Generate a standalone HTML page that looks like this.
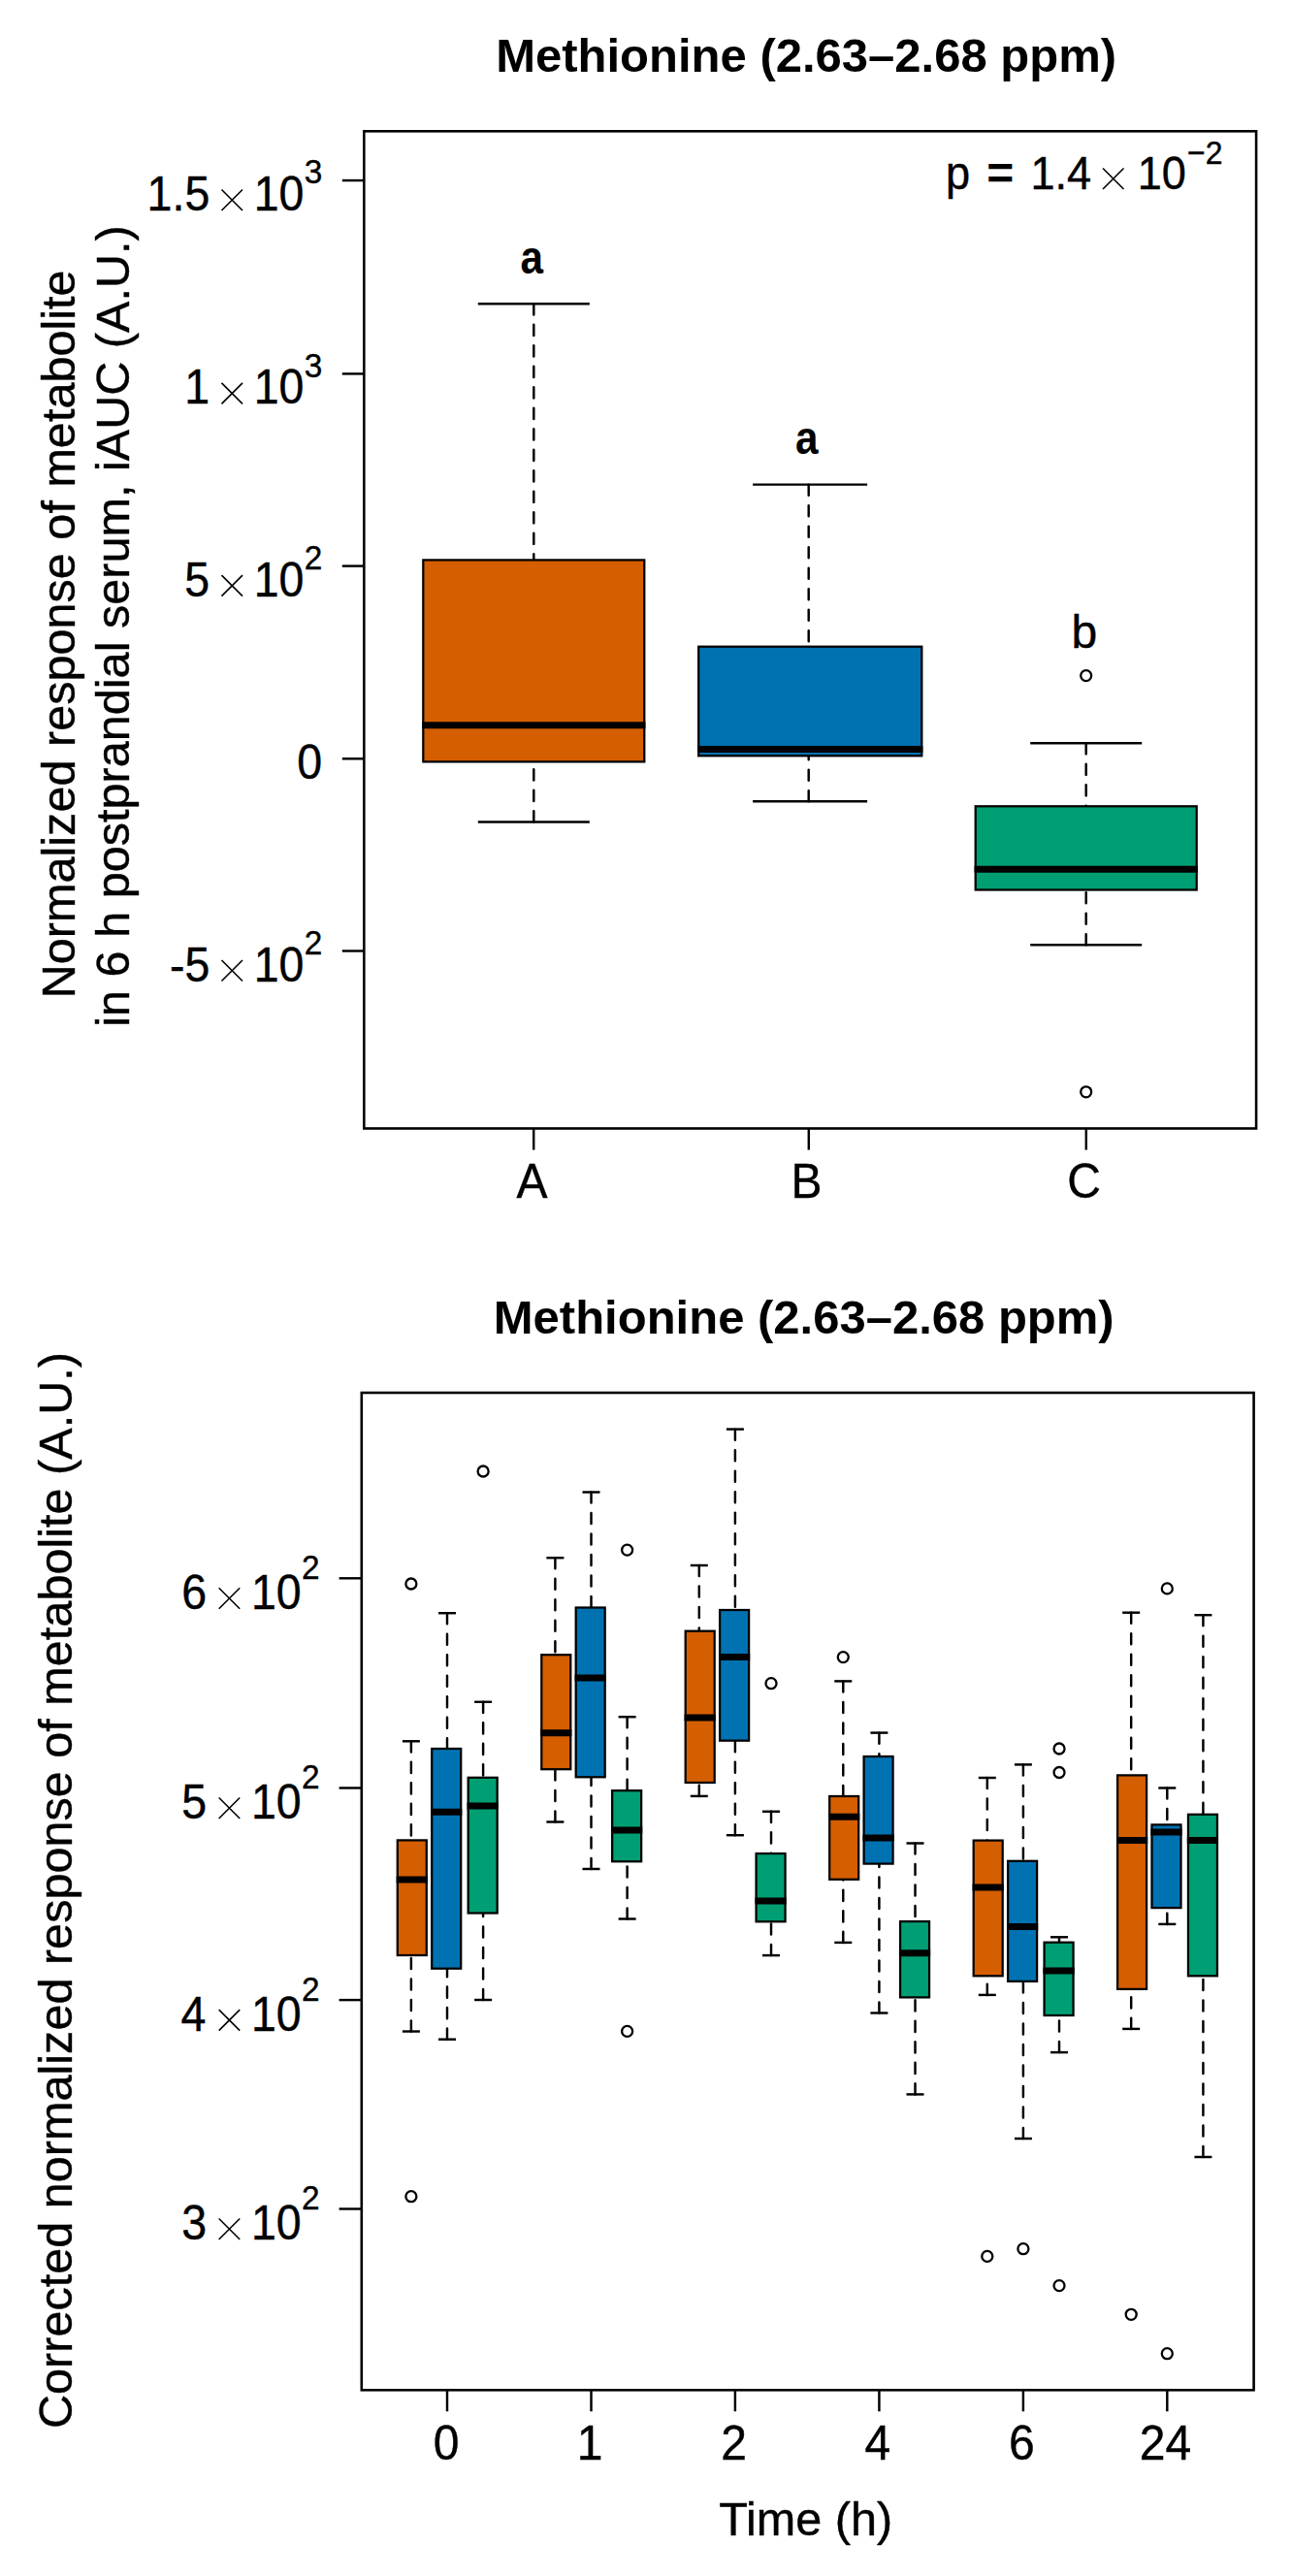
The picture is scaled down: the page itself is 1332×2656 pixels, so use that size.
<!DOCTYPE html>
<html><head><meta charset="utf-8"><title>Methionine boxplots</title>
<style>html,body{margin:0;padding:0;background:#fff;} svg{display:block;} text{font-family:"Liberation Sans", sans-serif;fill:#000;} text.r{stroke:#000;stroke-width:0.4px;}</style>
</head><body>
<svg width="1332" height="2656" viewBox="0 0 1332 2656">
<rect x="0" y="0" width="1332" height="2656" fill="#fff"/>
<rect x="375.3" y="135.3" width="919.8" height="1028.2" fill="none" stroke="#000" stroke-width="2.6"/>
<line x1="352.80" y1="186.05" x2="375.00" y2="186.05" stroke="#000" stroke-width="2.45" stroke-linecap="butt"/>
<line x1="352.80" y1="385.40" x2="375.00" y2="385.40" stroke="#000" stroke-width="2.45" stroke-linecap="butt"/>
<line x1="352.80" y1="583.60" x2="375.00" y2="583.60" stroke="#000" stroke-width="2.45" stroke-linecap="butt"/>
<line x1="352.80" y1="782.30" x2="375.00" y2="782.30" stroke="#000" stroke-width="2.45" stroke-linecap="butt"/>
<line x1="352.80" y1="980.50" x2="375.00" y2="980.50" stroke="#000" stroke-width="2.45" stroke-linecap="butt"/>
<line x1="550.20" y1="1163.50" x2="550.20" y2="1185.60" stroke="#000" stroke-width="2.45" stroke-linecap="butt"/>
<line x1="833.80" y1="1163.50" x2="833.80" y2="1185.60" stroke="#000" stroke-width="2.45" stroke-linecap="butt"/>
<line x1="1119.80" y1="1163.50" x2="1119.80" y2="1185.60" stroke="#000" stroke-width="2.45" stroke-linecap="butt"/>
<line x1="550.30" y1="313.30" x2="550.30" y2="577.40" stroke="#000" stroke-width="2.45" stroke-linecap="round" stroke-dasharray="11.1 10.4" stroke-dashoffset="0"/>
<line x1="550.30" y1="847.40" x2="550.30" y2="785.40" stroke="#000" stroke-width="2.45" stroke-linecap="round" stroke-dasharray="11.1 10.4" stroke-dashoffset="0"/>
<line x1="492.80" y1="313.30" x2="607.80" y2="313.30" stroke="#000" stroke-width="2.45" stroke-linecap="butt"/>
<line x1="492.80" y1="847.40" x2="607.80" y2="847.40" stroke="#000" stroke-width="2.45" stroke-linecap="butt"/>
<rect x="436.30" y="577.40" width="228.00" height="208.00" fill="#D55E00" stroke="#000" stroke-width="2.25"/>
<line x1="435.20" y1="747.80" x2="665.40" y2="747.80" stroke="#000" stroke-width="7.0" stroke-linecap="butt"/>
<line x1="833.70" y1="499.60" x2="833.70" y2="666.70" stroke="#000" stroke-width="2.45" stroke-linecap="round" stroke-dasharray="11.1 10.4" stroke-dashoffset="0"/>
<line x1="833.70" y1="826.20" x2="833.70" y2="779.30" stroke="#000" stroke-width="2.45" stroke-linecap="round" stroke-dasharray="11.1 10.4" stroke-dashoffset="0"/>
<line x1="776.10" y1="499.60" x2="894.10" y2="499.60" stroke="#000" stroke-width="2.45" stroke-linecap="butt"/>
<line x1="776.10" y1="826.20" x2="894.10" y2="826.20" stroke="#000" stroke-width="2.45" stroke-linecap="butt"/>
<rect x="720.20" y="666.70" width="230.10" height="112.60" fill="#0072B2" stroke="#000" stroke-width="2.25"/>
<line x1="719.10" y1="772.40" x2="951.40" y2="772.40" stroke="#000" stroke-width="7.0" stroke-linecap="butt"/>
<line x1="1119.70" y1="766.30" x2="1119.70" y2="831.30" stroke="#000" stroke-width="2.45" stroke-linecap="round" stroke-dasharray="11.1 10.4" stroke-dashoffset="0"/>
<line x1="1119.70" y1="974.20" x2="1119.70" y2="917.50" stroke="#000" stroke-width="2.45" stroke-linecap="round" stroke-dasharray="11.1 10.4" stroke-dashoffset="0"/>
<line x1="1062.20" y1="766.30" x2="1177.20" y2="766.30" stroke="#000" stroke-width="2.45" stroke-linecap="butt"/>
<line x1="1062.20" y1="974.20" x2="1177.20" y2="974.20" stroke="#000" stroke-width="2.45" stroke-linecap="butt"/>
<rect x="1005.70" y="831.30" width="228.00" height="86.20" fill="#009E73" stroke="#000" stroke-width="2.25"/>
<line x1="1004.60" y1="896.20" x2="1234.80" y2="896.20" stroke="#000" stroke-width="7.0" stroke-linecap="butt"/>
<circle cx="1119.70" cy="696.60" r="5.5" fill="none" stroke="#000" stroke-width="2.3"/>
<circle cx="1119.70" cy="1125.80" r="5.5" fill="none" stroke="#000" stroke-width="2.3"/>
<path d="M228.50 195.55L250.00 217.05M250.00 195.55L228.50 217.05" stroke="#000" stroke-width="1.6" fill="none"/>
<path d="M228.50 394.90L250.00 416.40M250.00 394.90L228.50 416.40" stroke="#000" stroke-width="1.6" fill="none"/>
<path d="M228.50 593.10L250.00 614.60M250.00 593.10L228.50 614.60" stroke="#000" stroke-width="1.6" fill="none"/>
<path d="M228.50 990.00L250.00 1011.50M250.00 990.00L228.50 1011.50" stroke="#000" stroke-width="1.6" fill="none"/>
<path d="M1137.00 173.50L1158.50 195.00M1158.50 173.50L1137.00 195.00" stroke="#000" stroke-width="1.6" fill="none"/>
<rect x="372.8" y="1436" width="919.8" height="1028.3" fill="none" stroke="#000" stroke-width="2.6"/>
<line x1="349.60" y1="1627.30" x2="372.60" y2="1627.30" stroke="#000" stroke-width="2.45" stroke-linecap="butt"/>
<line x1="349.60" y1="1843.50" x2="372.60" y2="1843.50" stroke="#000" stroke-width="2.45" stroke-linecap="butt"/>
<line x1="349.60" y1="2062.10" x2="372.60" y2="2062.10" stroke="#000" stroke-width="2.45" stroke-linecap="butt"/>
<line x1="349.60" y1="2277.50" x2="372.60" y2="2277.50" stroke="#000" stroke-width="2.45" stroke-linecap="butt"/>
<line x1="461.00" y1="2464.30" x2="461.00" y2="2486.30" stroke="#000" stroke-width="2.45" stroke-linecap="butt"/>
<line x1="609.50" y1="2464.30" x2="609.50" y2="2486.30" stroke="#000" stroke-width="2.45" stroke-linecap="butt"/>
<line x1="757.90" y1="2464.30" x2="757.90" y2="2486.30" stroke="#000" stroke-width="2.45" stroke-linecap="butt"/>
<line x1="906.40" y1="2464.30" x2="906.40" y2="2486.30" stroke="#000" stroke-width="2.45" stroke-linecap="butt"/>
<line x1="1054.90" y1="2464.30" x2="1054.90" y2="2486.30" stroke="#000" stroke-width="2.45" stroke-linecap="butt"/>
<line x1="1203.30" y1="2464.30" x2="1203.30" y2="2486.30" stroke="#000" stroke-width="2.45" stroke-linecap="butt"/>
<path d="M225.70 1637.30L247.20 1658.80M247.20 1637.30L225.70 1658.80" stroke="#000" stroke-width="1.6" fill="none"/>
<path d="M225.70 1853.50L247.20 1875.00M247.20 1853.50L225.70 1875.00" stroke="#000" stroke-width="1.6" fill="none"/>
<path d="M225.70 2072.10L247.20 2093.60M247.20 2072.10L225.70 2093.60" stroke="#000" stroke-width="1.6" fill="none"/>
<path d="M225.70 2287.50L247.20 2309.00M247.20 2287.50L225.70 2309.00" stroke="#000" stroke-width="1.6" fill="none"/>
<line x1="423.88" y1="1795.30" x2="423.88" y2="1897.40" stroke="#000" stroke-width="2.45" stroke-linecap="round" stroke-dasharray="11.1 10.4" stroke-dashoffset="0"/>
<line x1="423.88" y1="2094.50" x2="423.88" y2="2016.00" stroke="#000" stroke-width="2.45" stroke-linecap="round" stroke-dasharray="11.1 10.4" stroke-dashoffset="0"/>
<line x1="414.88" y1="1795.30" x2="432.88" y2="1795.30" stroke="#000" stroke-width="2.45" stroke-linecap="butt"/>
<line x1="414.88" y1="2094.50" x2="432.88" y2="2094.50" stroke="#000" stroke-width="2.45" stroke-linecap="butt"/>
<rect x="409.78" y="1897.40" width="30.00" height="118.60" fill="#D55E00" stroke="#000" stroke-width="2.25"/>
<line x1="408.68" y1="1938.00" x2="440.88" y2="1938.00" stroke="#000" stroke-width="7.0" stroke-linecap="butt"/>
<circle cx="423.88" cy="1633.00" r="5.5" fill="none" stroke="#000" stroke-width="2.3"/>
<circle cx="423.88" cy="2264.70" r="5.5" fill="none" stroke="#000" stroke-width="2.3"/>
<line x1="461.00" y1="1663.20" x2="461.00" y2="1803.00" stroke="#000" stroke-width="2.45" stroke-linecap="round" stroke-dasharray="11.1 10.4" stroke-dashoffset="0"/>
<line x1="461.00" y1="2102.70" x2="461.00" y2="2029.70" stroke="#000" stroke-width="2.45" stroke-linecap="round" stroke-dasharray="11.1 10.4" stroke-dashoffset="0"/>
<line x1="452.00" y1="1663.20" x2="470.00" y2="1663.20" stroke="#000" stroke-width="2.45" stroke-linecap="butt"/>
<line x1="452.00" y1="2102.70" x2="470.00" y2="2102.70" stroke="#000" stroke-width="2.45" stroke-linecap="butt"/>
<rect x="445.20" y="1803.00" width="30.00" height="226.70" fill="#0072B2" stroke="#000" stroke-width="2.25"/>
<line x1="444.10" y1="1868.20" x2="476.30" y2="1868.20" stroke="#000" stroke-width="7.0" stroke-linecap="butt"/>
<line x1="498.12" y1="1754.80" x2="498.12" y2="1832.80" stroke="#000" stroke-width="2.45" stroke-linecap="round" stroke-dasharray="11.1 10.4" stroke-dashoffset="0"/>
<line x1="498.12" y1="2062.00" x2="498.12" y2="1972.50" stroke="#000" stroke-width="2.45" stroke-linecap="round" stroke-dasharray="11.1 10.4" stroke-dashoffset="0"/>
<line x1="489.12" y1="1754.80" x2="507.12" y2="1754.80" stroke="#000" stroke-width="2.45" stroke-linecap="butt"/>
<line x1="489.12" y1="2062.00" x2="507.12" y2="2062.00" stroke="#000" stroke-width="2.45" stroke-linecap="butt"/>
<rect x="482.67" y="1832.80" width="30.00" height="139.70" fill="#009E73" stroke="#000" stroke-width="2.25"/>
<line x1="481.56" y1="1862.00" x2="513.76" y2="1862.00" stroke="#000" stroke-width="7.0" stroke-linecap="butt"/>
<circle cx="498.12" cy="1517.00" r="5.5" fill="none" stroke="#000" stroke-width="2.3"/>
<line x1="572.38" y1="1606.20" x2="572.38" y2="1706.20" stroke="#000" stroke-width="2.45" stroke-linecap="round" stroke-dasharray="11.1 10.4" stroke-dashoffset="0"/>
<line x1="572.38" y1="1878.50" x2="572.38" y2="1824.20" stroke="#000" stroke-width="2.45" stroke-linecap="round" stroke-dasharray="11.1 10.4" stroke-dashoffset="0"/>
<line x1="563.38" y1="1606.20" x2="581.38" y2="1606.20" stroke="#000" stroke-width="2.45" stroke-linecap="butt"/>
<line x1="563.38" y1="1878.50" x2="581.38" y2="1878.50" stroke="#000" stroke-width="2.45" stroke-linecap="butt"/>
<rect x="558.28" y="1706.20" width="30.00" height="118.00" fill="#D55E00" stroke="#000" stroke-width="2.25"/>
<line x1="557.18" y1="1786.70" x2="589.38" y2="1786.70" stroke="#000" stroke-width="7.0" stroke-linecap="butt"/>
<line x1="609.50" y1="1538.50" x2="609.50" y2="1657.50" stroke="#000" stroke-width="2.45" stroke-linecap="round" stroke-dasharray="11.1 10.4" stroke-dashoffset="0"/>
<line x1="609.50" y1="1927.00" x2="609.50" y2="1832.30" stroke="#000" stroke-width="2.45" stroke-linecap="round" stroke-dasharray="11.1 10.4" stroke-dashoffset="0"/>
<line x1="600.50" y1="1538.50" x2="618.50" y2="1538.50" stroke="#000" stroke-width="2.45" stroke-linecap="butt"/>
<line x1="600.50" y1="1927.00" x2="618.50" y2="1927.00" stroke="#000" stroke-width="2.45" stroke-linecap="butt"/>
<rect x="593.70" y="1657.50" width="30.00" height="174.80" fill="#0072B2" stroke="#000" stroke-width="2.25"/>
<line x1="592.60" y1="1730.00" x2="624.80" y2="1730.00" stroke="#000" stroke-width="7.0" stroke-linecap="butt"/>
<line x1="646.62" y1="1770.20" x2="646.62" y2="1846.20" stroke="#000" stroke-width="2.45" stroke-linecap="round" stroke-dasharray="11.1 10.4" stroke-dashoffset="0"/>
<line x1="646.62" y1="1978.50" x2="646.62" y2="1919.30" stroke="#000" stroke-width="2.45" stroke-linecap="round" stroke-dasharray="11.1 10.4" stroke-dashoffset="0"/>
<line x1="637.62" y1="1770.20" x2="655.62" y2="1770.20" stroke="#000" stroke-width="2.45" stroke-linecap="butt"/>
<line x1="637.62" y1="1978.50" x2="655.62" y2="1978.50" stroke="#000" stroke-width="2.45" stroke-linecap="butt"/>
<rect x="631.16" y="1846.20" width="30.00" height="73.10" fill="#009E73" stroke="#000" stroke-width="2.25"/>
<line x1="630.06" y1="1887.00" x2="662.26" y2="1887.00" stroke="#000" stroke-width="7.0" stroke-linecap="butt"/>
<circle cx="646.62" cy="1598.10" r="5.5" fill="none" stroke="#000" stroke-width="2.3"/>
<circle cx="646.62" cy="2094.40" r="5.5" fill="none" stroke="#000" stroke-width="2.3"/>
<line x1="720.78" y1="1614.00" x2="720.78" y2="1681.70" stroke="#000" stroke-width="2.45" stroke-linecap="round" stroke-dasharray="11.1 10.4" stroke-dashoffset="0"/>
<line x1="720.78" y1="1851.90" x2="720.78" y2="1838.00" stroke="#000" stroke-width="2.45" stroke-linecap="round" stroke-dasharray="11.1 10.4" stroke-dashoffset="0"/>
<line x1="711.78" y1="1614.00" x2="729.78" y2="1614.00" stroke="#000" stroke-width="2.45" stroke-linecap="butt"/>
<line x1="711.78" y1="1851.90" x2="729.78" y2="1851.90" stroke="#000" stroke-width="2.45" stroke-linecap="butt"/>
<rect x="706.68" y="1681.70" width="30.00" height="156.30" fill="#D55E00" stroke="#000" stroke-width="2.25"/>
<line x1="705.58" y1="1771.10" x2="737.78" y2="1771.10" stroke="#000" stroke-width="7.0" stroke-linecap="butt"/>
<line x1="757.90" y1="1473.60" x2="757.90" y2="1660.00" stroke="#000" stroke-width="2.45" stroke-linecap="round" stroke-dasharray="11.1 10.4" stroke-dashoffset="0"/>
<line x1="757.90" y1="1892.20" x2="757.90" y2="1794.70" stroke="#000" stroke-width="2.45" stroke-linecap="round" stroke-dasharray="11.1 10.4" stroke-dashoffset="0"/>
<line x1="748.90" y1="1473.60" x2="766.90" y2="1473.60" stroke="#000" stroke-width="2.45" stroke-linecap="butt"/>
<line x1="748.90" y1="1892.20" x2="766.90" y2="1892.20" stroke="#000" stroke-width="2.45" stroke-linecap="butt"/>
<rect x="742.10" y="1660.00" width="30.00" height="134.70" fill="#0072B2" stroke="#000" stroke-width="2.25"/>
<line x1="741.00" y1="1708.40" x2="773.20" y2="1708.40" stroke="#000" stroke-width="7.0" stroke-linecap="butt"/>
<line x1="795.01" y1="1867.80" x2="795.01" y2="1911.10" stroke="#000" stroke-width="2.45" stroke-linecap="round" stroke-dasharray="11.1 10.4" stroke-dashoffset="0"/>
<line x1="795.01" y1="2016.10" x2="795.01" y2="1981.30" stroke="#000" stroke-width="2.45" stroke-linecap="round" stroke-dasharray="11.1 10.4" stroke-dashoffset="0"/>
<line x1="786.01" y1="1867.80" x2="804.01" y2="1867.80" stroke="#000" stroke-width="2.45" stroke-linecap="butt"/>
<line x1="786.01" y1="2016.10" x2="804.01" y2="2016.10" stroke="#000" stroke-width="2.45" stroke-linecap="butt"/>
<rect x="779.56" y="1911.10" width="30.00" height="70.20" fill="#009E73" stroke="#000" stroke-width="2.25"/>
<line x1="778.46" y1="1959.90" x2="810.66" y2="1959.90" stroke="#000" stroke-width="7.0" stroke-linecap="butt"/>
<circle cx="795.01" cy="1735.70" r="5.5" fill="none" stroke="#000" stroke-width="2.3"/>
<line x1="869.28" y1="1733.40" x2="869.28" y2="1852.00" stroke="#000" stroke-width="2.45" stroke-linecap="round" stroke-dasharray="11.1 10.4" stroke-dashoffset="0"/>
<line x1="869.28" y1="2002.90" x2="869.28" y2="1937.80" stroke="#000" stroke-width="2.45" stroke-linecap="round" stroke-dasharray="11.1 10.4" stroke-dashoffset="0"/>
<line x1="860.28" y1="1733.40" x2="878.28" y2="1733.40" stroke="#000" stroke-width="2.45" stroke-linecap="butt"/>
<line x1="860.28" y1="2002.90" x2="878.28" y2="2002.90" stroke="#000" stroke-width="2.45" stroke-linecap="butt"/>
<rect x="855.18" y="1852.00" width="30.00" height="85.80" fill="#D55E00" stroke="#000" stroke-width="2.25"/>
<line x1="854.08" y1="1873.20" x2="886.28" y2="1873.20" stroke="#000" stroke-width="7.0" stroke-linecap="butt"/>
<circle cx="869.28" cy="1708.60" r="5.5" fill="none" stroke="#000" stroke-width="2.3"/>
<line x1="906.40" y1="1786.60" x2="906.40" y2="1811.00" stroke="#000" stroke-width="2.45" stroke-linecap="round" stroke-dasharray="11.1 10.4" stroke-dashoffset="0"/>
<line x1="906.40" y1="2075.50" x2="906.40" y2="1921.60" stroke="#000" stroke-width="2.45" stroke-linecap="round" stroke-dasharray="11.1 10.4" stroke-dashoffset="0"/>
<line x1="897.40" y1="1786.60" x2="915.40" y2="1786.60" stroke="#000" stroke-width="2.45" stroke-linecap="butt"/>
<line x1="897.40" y1="2075.50" x2="915.40" y2="2075.50" stroke="#000" stroke-width="2.45" stroke-linecap="butt"/>
<rect x="890.60" y="1811.00" width="30.00" height="110.60" fill="#0072B2" stroke="#000" stroke-width="2.25"/>
<line x1="889.50" y1="1894.90" x2="921.70" y2="1894.90" stroke="#000" stroke-width="7.0" stroke-linecap="butt"/>
<line x1="943.51" y1="1900.50" x2="943.51" y2="1981.10" stroke="#000" stroke-width="2.45" stroke-linecap="round" stroke-dasharray="11.1 10.4" stroke-dashoffset="0"/>
<line x1="943.51" y1="2159.40" x2="943.51" y2="2059.40" stroke="#000" stroke-width="2.45" stroke-linecap="round" stroke-dasharray="11.1 10.4" stroke-dashoffset="0"/>
<line x1="934.51" y1="1900.50" x2="952.51" y2="1900.50" stroke="#000" stroke-width="2.45" stroke-linecap="butt"/>
<line x1="934.51" y1="2159.40" x2="952.51" y2="2159.40" stroke="#000" stroke-width="2.45" stroke-linecap="butt"/>
<rect x="928.06" y="1981.10" width="30.00" height="78.30" fill="#009E73" stroke="#000" stroke-width="2.25"/>
<line x1="926.96" y1="2013.70" x2="959.16" y2="2013.70" stroke="#000" stroke-width="7.0" stroke-linecap="butt"/>
<line x1="1017.79" y1="1833.00" x2="1017.79" y2="1897.60" stroke="#000" stroke-width="2.45" stroke-linecap="round" stroke-dasharray="11.1 10.4" stroke-dashoffset="0"/>
<line x1="1017.79" y1="2056.90" x2="1017.79" y2="2037.30" stroke="#000" stroke-width="2.45" stroke-linecap="round" stroke-dasharray="11.1 10.4" stroke-dashoffset="0"/>
<line x1="1008.79" y1="1833.00" x2="1026.79" y2="1833.00" stroke="#000" stroke-width="2.45" stroke-linecap="butt"/>
<line x1="1008.79" y1="2056.90" x2="1026.79" y2="2056.90" stroke="#000" stroke-width="2.45" stroke-linecap="butt"/>
<rect x="1003.69" y="1897.60" width="30.00" height="139.70" fill="#D55E00" stroke="#000" stroke-width="2.25"/>
<line x1="1002.59" y1="1946.10" x2="1034.78" y2="1946.10" stroke="#000" stroke-width="7.0" stroke-linecap="butt"/>
<circle cx="1017.79" cy="2326.40" r="5.5" fill="none" stroke="#000" stroke-width="2.3"/>
<line x1="1054.90" y1="1819.40" x2="1054.90" y2="1918.80" stroke="#000" stroke-width="2.45" stroke-linecap="round" stroke-dasharray="11.1 10.4" stroke-dashoffset="0"/>
<line x1="1054.90" y1="2205.00" x2="1054.90" y2="2042.90" stroke="#000" stroke-width="2.45" stroke-linecap="round" stroke-dasharray="11.1 10.4" stroke-dashoffset="0"/>
<line x1="1045.90" y1="1819.40" x2="1063.90" y2="1819.40" stroke="#000" stroke-width="2.45" stroke-linecap="butt"/>
<line x1="1045.90" y1="2205.00" x2="1063.90" y2="2205.00" stroke="#000" stroke-width="2.45" stroke-linecap="butt"/>
<rect x="1039.10" y="1918.80" width="30.00" height="124.10" fill="#0072B2" stroke="#000" stroke-width="2.25"/>
<line x1="1038.00" y1="1986.50" x2="1070.20" y2="1986.50" stroke="#000" stroke-width="7.0" stroke-linecap="butt"/>
<circle cx="1054.90" cy="2318.70" r="5.5" fill="none" stroke="#000" stroke-width="2.3"/>
<line x1="1092.02" y1="1997.30" x2="1092.02" y2="2002.70" stroke="#000" stroke-width="2.45" stroke-linecap="round" stroke-dasharray="11.1 10.4" stroke-dashoffset="0"/>
<line x1="1092.02" y1="2116.10" x2="1092.02" y2="2078.00" stroke="#000" stroke-width="2.45" stroke-linecap="round" stroke-dasharray="11.1 10.4" stroke-dashoffset="0"/>
<line x1="1083.02" y1="1997.30" x2="1101.02" y2="1997.30" stroke="#000" stroke-width="2.45" stroke-linecap="butt"/>
<line x1="1083.02" y1="2116.10" x2="1101.02" y2="2116.10" stroke="#000" stroke-width="2.45" stroke-linecap="butt"/>
<rect x="1076.57" y="2002.70" width="30.00" height="75.30" fill="#009E73" stroke="#000" stroke-width="2.25"/>
<line x1="1075.47" y1="2032.00" x2="1107.66" y2="2032.00" stroke="#000" stroke-width="7.0" stroke-linecap="butt"/>
<circle cx="1092.02" cy="1803.00" r="5.5" fill="none" stroke="#000" stroke-width="2.3"/>
<circle cx="1092.02" cy="1827.50" r="5.5" fill="none" stroke="#000" stroke-width="2.3"/>
<circle cx="1092.02" cy="2356.60" r="5.5" fill="none" stroke="#000" stroke-width="2.3"/>
<line x1="1166.18" y1="1662.70" x2="1166.18" y2="1830.40" stroke="#000" stroke-width="2.45" stroke-linecap="round" stroke-dasharray="11.1 10.4" stroke-dashoffset="0"/>
<line x1="1166.18" y1="2091.90" x2="1166.18" y2="2050.90" stroke="#000" stroke-width="2.45" stroke-linecap="round" stroke-dasharray="11.1 10.4" stroke-dashoffset="0"/>
<line x1="1157.18" y1="1662.70" x2="1175.18" y2="1662.70" stroke="#000" stroke-width="2.45" stroke-linecap="butt"/>
<line x1="1157.18" y1="2091.90" x2="1175.18" y2="2091.90" stroke="#000" stroke-width="2.45" stroke-linecap="butt"/>
<rect x="1152.09" y="1830.40" width="30.00" height="220.50" fill="#D55E00" stroke="#000" stroke-width="2.25"/>
<line x1="1150.99" y1="1897.50" x2="1183.18" y2="1897.50" stroke="#000" stroke-width="7.0" stroke-linecap="butt"/>
<circle cx="1166.18" cy="2386.30" r="5.5" fill="none" stroke="#000" stroke-width="2.3"/>
<line x1="1203.30" y1="1843.50" x2="1203.30" y2="1881.40" stroke="#000" stroke-width="2.45" stroke-linecap="round" stroke-dasharray="11.1 10.4" stroke-dashoffset="0"/>
<line x1="1203.30" y1="1983.90" x2="1203.30" y2="1967.10" stroke="#000" stroke-width="2.45" stroke-linecap="round" stroke-dasharray="11.1 10.4" stroke-dashoffset="0"/>
<line x1="1194.30" y1="1843.50" x2="1212.30" y2="1843.50" stroke="#000" stroke-width="2.45" stroke-linecap="butt"/>
<line x1="1194.30" y1="1983.90" x2="1212.30" y2="1983.90" stroke="#000" stroke-width="2.45" stroke-linecap="butt"/>
<rect x="1187.50" y="1881.40" width="30.00" height="85.70" fill="#0072B2" stroke="#000" stroke-width="2.25"/>
<line x1="1186.40" y1="1889.00" x2="1218.60" y2="1889.00" stroke="#000" stroke-width="7.0" stroke-linecap="butt"/>
<circle cx="1203.30" cy="1637.90" r="5.5" fill="none" stroke="#000" stroke-width="2.3"/>
<circle cx="1203.30" cy="2426.70" r="5.5" fill="none" stroke="#000" stroke-width="2.3"/>
<line x1="1240.41" y1="1665.20" x2="1240.41" y2="1870.80" stroke="#000" stroke-width="2.45" stroke-linecap="round" stroke-dasharray="11.1 10.4" stroke-dashoffset="0"/>
<line x1="1240.41" y1="2224.00" x2="1240.41" y2="2037.30" stroke="#000" stroke-width="2.45" stroke-linecap="round" stroke-dasharray="11.1 10.4" stroke-dashoffset="0"/>
<line x1="1231.41" y1="1665.20" x2="1249.41" y2="1665.20" stroke="#000" stroke-width="2.45" stroke-linecap="butt"/>
<line x1="1231.41" y1="2224.00" x2="1249.41" y2="2224.00" stroke="#000" stroke-width="2.45" stroke-linecap="butt"/>
<rect x="1224.96" y="1870.80" width="30.00" height="166.50" fill="#009E73" stroke="#000" stroke-width="2.25"/>
<line x1="1223.87" y1="1897.50" x2="1256.06" y2="1897.50" stroke="#000" stroke-width="7.0" stroke-linecap="butt"/>
<text x="511.20" y="73.90" font-size="49" font-weight="bold">Methionine (2.63–2.68 ppm)</text>
<text transform="translate(536.54,282.10) scale(0.88,1.0)" font-size="48" font-weight="bold">a</text>
<text transform="translate(820.04,468.30) scale(0.88,1.0)" font-size="48" font-weight="bold">a</text>
<text class="r" x="1104.40" y="667.50" font-size="48" font-weight="normal">b</text>
<text class="r" transform="translate(532.50,1235.10) scale(0.97,1.0)" font-size="49.5" font-weight="normal">A</text>
<text class="r" transform="translate(815.52,1235.10) scale(0.97,1.0)" font-size="49.5" font-weight="normal">B</text>
<text class="r" transform="translate(1100.24,1235.10) scale(0.97,1.0)" font-size="49.5" font-weight="normal">C</text>
<text class="r" transform="translate(151.62,217.05) scale(0.94,1.0)" font-size="49.5" font-weight="normal">1.5</text>
<text class="r" transform="translate(261.74,217.05) scale(0.94,1.0)" font-size="49.5" font-weight="normal">10</text>
<text class="r" transform="translate(313.74,189.35) scale(0.94,1.0)" font-size="35.5" font-weight="normal">3</text>
<text class="r" transform="translate(190.16,416.40) scale(0.94,1.0)" font-size="49.5" font-weight="normal">1</text>
<text class="r" transform="translate(261.74,416.40) scale(0.94,1.0)" font-size="49.5" font-weight="normal">10</text>
<text class="r" transform="translate(313.74,388.70) scale(0.94,1.0)" font-size="35.5" font-weight="normal">3</text>
<text class="r" transform="translate(190.16,614.60) scale(0.94,1.0)" font-size="49.5" font-weight="normal">5</text>
<text class="r" transform="translate(261.74,614.60) scale(0.94,1.0)" font-size="49.5" font-weight="normal">10</text>
<text class="r" transform="translate(313.74,586.90) scale(0.94,1.0)" font-size="35.5" font-weight="normal">2</text>
<text class="r" transform="translate(306.16,802.80) scale(0.94,1.0)" font-size="49.5" font-weight="normal">0</text>
<text class="r" transform="translate(175.12,1011.50) scale(0.94,1.0)" font-size="49.5" font-weight="normal">-5</text>
<text class="r" transform="translate(261.74,1011.50) scale(0.94,1.0)" font-size="49.5" font-weight="normal">10</text>
<text class="r" transform="translate(313.74,983.80) scale(0.94,1.0)" font-size="35.5" font-weight="normal">2</text>
<text class="r" transform="translate(974.92,195.00) scale(0.94,1.0)" font-size="48" font-weight="normal">p</text>
<text x="1017.20" y="195.00" font-size="48" font-weight="bold">=</text>
<text class="r" transform="translate(1062.48,195.00) scale(0.94,1.0)" font-size="48" font-weight="normal">1.4</text>
<text class="r" transform="translate(1172.68,195.00) scale(0.94,1.0)" font-size="48" font-weight="normal">10</text>
<text class="r" transform="translate(1223.98,168.50) scale(0.94,1.0)" font-size="34" font-weight="normal">−2</text>
<text class="r" transform="translate(76.80,1029.30) rotate(-90)" font-size="48.6" font-weight="normal">Normalized response of metabolite</text>
<text class="r" transform="translate(132.70,1058.70) rotate(-90)" font-size="48.6" font-weight="normal">in 6 h postprandial serum, iAUC (A.U.)</text>
<text x="508.80" y="1375.10" font-size="49" font-weight="bold">Methionine (2.63–2.68 ppm)</text>
<text class="r" transform="translate(446.82,2535.50) scale(0.97,1.0)" font-size="49.5" font-weight="normal">0</text>
<text class="r" transform="translate(594.64,2535.50) scale(0.97,1.0)" font-size="49.5" font-weight="normal">1</text>
<text class="r" transform="translate(743.22,2535.50) scale(0.97,1.0)" font-size="49.5" font-weight="normal">2</text>
<text class="r" transform="translate(891.42,2535.50) scale(0.97,1.0)" font-size="49.5" font-weight="normal">4</text>
<text class="r" transform="translate(1040.02,2535.50) scale(0.97,1.0)" font-size="49.5" font-weight="normal">6</text>
<text class="r" transform="translate(1174.84,2535.50) scale(0.97,1.0)" font-size="49.5" font-weight="normal">24</text>
<text class="r" transform="translate(187.36,1658.80) scale(0.94,1.0)" font-size="49.5" font-weight="normal">6</text>
<text class="r" transform="translate(258.94,1658.80) scale(0.94,1.0)" font-size="49.5" font-weight="normal">10</text>
<text class="r" transform="translate(310.94,1628.20) scale(0.94,1.0)" font-size="35.5" font-weight="normal">2</text>
<text class="r" transform="translate(187.36,1875.00) scale(0.94,1.0)" font-size="49.5" font-weight="normal">5</text>
<text class="r" transform="translate(258.94,1875.00) scale(0.94,1.0)" font-size="49.5" font-weight="normal">10</text>
<text class="r" transform="translate(310.94,1844.40) scale(0.94,1.0)" font-size="35.5" font-weight="normal">2</text>
<text class="r" transform="translate(186.42,2093.60) scale(0.94,1.0)" font-size="49.5" font-weight="normal">4</text>
<text class="r" transform="translate(258.94,2093.60) scale(0.94,1.0)" font-size="49.5" font-weight="normal">10</text>
<text class="r" transform="translate(310.94,2063.00) scale(0.94,1.0)" font-size="35.5" font-weight="normal">2</text>
<text class="r" transform="translate(187.36,2309.00) scale(0.94,1.0)" font-size="49.5" font-weight="normal">3</text>
<text class="r" transform="translate(258.94,2309.00) scale(0.94,1.0)" font-size="49.5" font-weight="normal">10</text>
<text class="r" transform="translate(310.94,2278.40) scale(0.94,1.0)" font-size="35.5" font-weight="normal">2</text>
<text class="r" x="741.20" y="2613.70" font-size="48.6" font-weight="normal">Time (h)</text>
<text class="r" transform="translate(73.60,2504.10) rotate(-90)" font-size="48.6" font-weight="normal">Corrected normalized response of metabolite (A.U.)</text>
</svg>
</body></html>
